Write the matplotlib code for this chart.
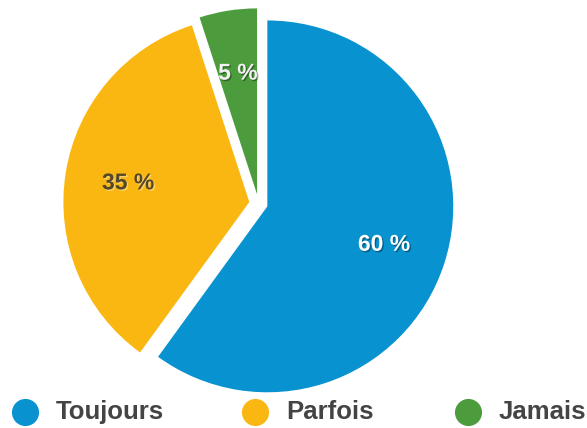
import matplotlib.pyplot as plt
import matplotlib.patheffects as pe

labels = ['Toujours', 'Parfois', 'Jamais']
shares = [60, 35, 5]
colors = ['#0892d0', '#fbb711', '#4c9c3e']
pct_colors = ['white', '#54482a', '#f2f2f2']

plt.rcParams['font.family'] = ['Liberation Sans', 'DejaVu Sans']

fig = plt.figure(figsize=(5.87, 4.28), dpi=100)
ax = fig.add_axes([54 / 587, 20 / 428, 409 / 587, 409 / 428])

wedges, texts, autotexts = ax.pie(
    shares, colors=colors, startangle=90, counterclock=False,
    explode=[0.05] * len(shares), pctdistance=0.66,
    autopct=lambda p: '{:.0f} %'.format(p),
    wedgeprops=dict(linewidth=0),
)
ax.set_xlim(-1.1, 1.1)
ax.set_ylim(-1.1, 1.1)
ax.set_aspect('equal')
ax.axis('off')

for t, c in zip(autotexts, pct_colors):
    t.set_color(c)
    t.set_fontsize(16.5)
    t.set_fontweight('bold')
    shadow = 'white' if c == '#54482a' else 'black'
    t.set_path_effects([pe.withSimplePatchShadow(offset=(1, -1), shadow_rgbFace=shadow, alpha=0.35)])

# legend row along the bottom
marker_x = [25, 255, 468]
for name, col, mx in zip(labels, colors, marker_x):
    fig.lines.append(plt.Line2D([mx / 587], [16 / 428], marker='o', markersize=18.5,
                                color=col, linestyle='none', transform=fig.transFigure))
    fig.text((mx + 31) / 587, 16 / 428, name, fontsize=18.5, fontweight='bold',
             color='#444444', va='center', ha='left')

fig.savefig('out.png', dpi=100)
